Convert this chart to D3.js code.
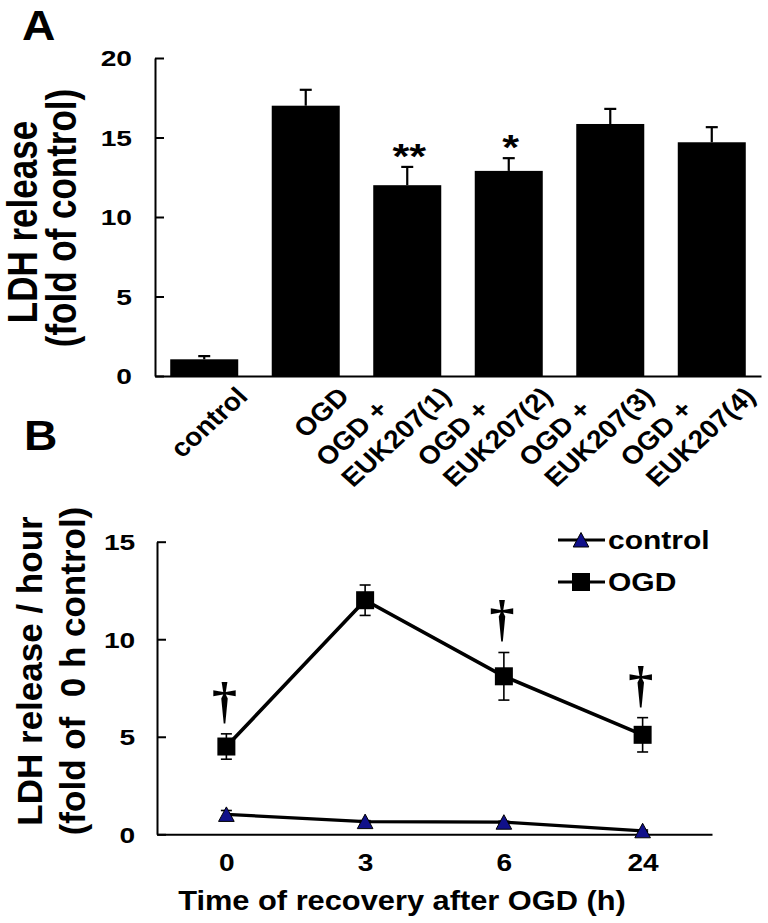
<!DOCTYPE html>
<html>
<head>
<meta charset="utf-8">
<script src="https://cdn.jsdelivr.net/npm/d3@7"></script>
<style>
  html, body { margin: 0; padding: 0; background: #fff; }
  svg { display: block; }
  text { font-family: "Liberation Sans", Arial, Helvetica, sans-serif; font-weight: bold; fill: #000; }
</style>
</head>
<body>
<svg id="chart" width="768" height="923"></svg>
<script>
// ---------- Panel A data ----------
const categoriesA = ["control", "OGD", "OGD + EUK207(1)", "OGD + EUK207(2)", "OGD + EUK207(3)", "OGD + EUK207(4)"];
const ldhRelease = [1.05, 17.0, 12.0, 12.9, 15.85, 14.7];
const ldhReleaseErr = [0.2, 1.0, 1.15, 0.8, 0.95, 0.95];
const significance = ["", "", "**", "*", "", ""];
const yTicksA = [0, 5, 10, 15, 20];

// ---------- Panel B data ----------
const timePoints = ["0", "3", "6", "24"];
const controlRate = [1.02, 0.65, 0.62, 0.18];
const controlErr = [0.2, 0.05, 0.05, 0.04];
const ogdRate = [4.5, 12.0, 8.1, 5.1];
const ogdErr = [0.65, 0.78, 1.22, 0.88];
const daggerMarks = ["\u2020", "", "\u2020", "\u2020"];
const yTicksB = [0, 5, 10, 15];
const seriesNames = ["control", "OGD"];

const svg = d3.select("#chart");

function txt(g, x, y, s, o) {
  let tr = `translate(${x},${y}) scale(${o.sx || 1},1)` + (o.rot ? ` rotate(${o.rot})` : "");
  const t = g.append("text")
    .attr("transform", tr)
    .attr("text-anchor", o.anchor || "start")
    .attr("font-size", o.size)
    .text(s);
  if (o.dy) t.attr("dy", o.dy);
  if (o.family) t.style("font-family", o.family);
  if (o.pre) t.attr("xml:space", "preserve").style("white-space", "pre");
  return t;
}

// =============== PANEL A ===============
const gA = svg.append("g");
const yA = d3.scaleLinear().domain([0, 20]).range([376, 58]);
const xA = d3.scaleBand().domain(categoriesA).range([155, 761]).paddingInner(0.33).paddingOuter(0.15);

txt(gA, 22, 40, "A", { size: 42, sx: 1.1 });

// y axis
const yAxisA = d3.axisLeft(yA).tickValues(yTicksA).tickSize(-9).tickSizeOuter(0).tickPadding(18);
const gyA = gA.append("g").attr("transform", "translate(155,0)").call(yAxisA);
gyA.select(".domain").attr("stroke", "#000").attr("stroke-width", 2);
gyA.selectAll(".tick line").attr("stroke", "#000").attr("stroke-width", 2);
gyA.selectAll(".tick text").attr("font-size", 22).attr("font-family", null).attr("transform", "scale(1.28,1)").attr("dy", "0.36em");

// bars
gA.selectAll("rect.bar").data(categoriesA).join("rect")
  .attr("class", "bar")
  .attr("x", d => xA(d))
  .attr("width", xA.bandwidth())
  .attr("y", (d, i) => yA(ldhRelease[i]))
  .attr("height", (d, i) => yA(0) - yA(ldhRelease[i]))
  .attr("fill", "#000");

// error bars (upper only)
const capA = 12;
categoriesA.forEach((c, i) => {
  const cx = xA(c) + xA.bandwidth() / 2;
  const top = yA(ldhRelease[i] + ldhReleaseErr[i]);
  gA.append("line").attr("x1", cx).attr("x2", cx).attr("y1", yA(ldhRelease[i])).attr("y2", top)
    .attr("stroke", "#000").attr("stroke-width", 2.2);
  gA.append("line").attr("x1", cx - capA / 2).attr("x2", cx + capA / 2).attr("y1", top).attr("y2", top)
    .attr("stroke", "#000").attr("stroke-width", 2.2);
  if (significance[i]) {
    txt(gA, cx + 2, top + 1, significance[i], { size: 36, sx: 1.2, anchor: "middle" });
  }
});

// x axis line
const xAxisA = d3.axisBottom(xA).tickSize(0).tickSizeOuter(0).tickFormat("");
const gxA = gA.append("g").attr("transform", `translate(0,${yA(0)})`).call(xAxisA);
gxA.select(".domain").attr("stroke", "#000").attr("stroke-width", 2);

// rotated category labels
const lab = 25.5, lh = 31;
categoriesA.forEach((c, i) => {
  const lines = c.split(/(?<=\+) /);
  const cx = xA(c) + xA.bandwidth() / 2;
  const g = gA.append("g").attr("transform", `translate(${cx + 45},${398}) scale(1.1,1) rotate(-45)`);
  const n = lines.length;
  const last = g.append("text").attr("font-size", lab).attr("text-anchor", "end").attr("x", 0).attr("y", 0).text(lines[n - 1]);
  const W = last.node().getComputedTextLength();
  for (let k = 0; k < n - 1; k++) {
    g.append("text").attr("font-size", lab).attr("text-anchor", "start")
      .attr("x", -W - 2).attr("y", -(n - 1 - k) * lh).text(lines[k]);
  }
});

// y title A
txt(gA, 37, 222, "LDH release", { size: 35, sx: 1.22, rot: -90, anchor: "middle" });
txt(gA, 76, 218, "(fold of control)", { size: 35, sx: 1.22, rot: -90, anchor: "middle" });

// =============== PANEL B ===============
const gB = svg.append("g");
const yB = d3.scaleLinear().domain([0, 15]).range([834.3, 541.7]);
const xB = d3.scalePoint().domain(timePoints).range([157, 712]).padding(0.5);

txt(gB, 24, 450, "B", { size: 42, sx: 1.1 });

const yAxisB = d3.axisLeft(yB).tickValues(yTicksB).tickSize(-9).tickSizeOuter(0).tickPadding(17);
const gyB = gB.append("g").attr("transform", "translate(157,0)").call(yAxisB);
gyB.select(".domain").attr("stroke", "#000").attr("stroke-width", 2);
gyB.selectAll(".tick line").attr("stroke", "#000").attr("stroke-width", 2);
gyB.selectAll(".tick text").attr("font-size", 22).attr("font-family", null).attr("transform", "scale(1.28,1)").attr("dy", "0.36em");

const xAxisB = d3.axisBottom(xB).tickSize(0).tickSizeOuter(0).tickPadding(20);
const gxB = gB.append("g").attr("transform", `translate(0,${yB(0)})`).call(xAxisB);
gxB.select(".domain").attr("stroke", "#000").attr("stroke-width", 2);
gxB.selectAll(".tick text").attr("font-size", 23).attr("font-family", null).attr("transform", "scale(1.22,1)");

// lines
const line = d3.line().x((d, i) => xB(timePoints[i])).y(d => yB(d));
gB.append("path").datum(controlRate).attr("d", line).attr("fill", "none").attr("stroke", "#000").attr("stroke-width", 3.2);
gB.append("path").datum(ogdRate).attr("d", line).attr("fill", "none").attr("stroke", "#000").attr("stroke-width", 3.6);

// error bars
function errBars(vals, errs) {
  vals.forEach((v, i) => {
    const cx = xB(timePoints[i]);
    const t = yB(v + errs[i]), b = yB(v - errs[i]);
    gB.append("line").attr("x1", cx).attr("x2", cx).attr("y1", t).attr("y2", b).attr("stroke", "#000").attr("stroke-width", 1.6);
    [t, b].forEach(yy => gB.append("line").attr("x1", cx - 5.5).attr("x2", cx + 5.5).attr("y1", yy).attr("y2", yy).attr("stroke", "#000").attr("stroke-width", 1.6));
  });
}
errBars(controlRate, controlErr);
errBars(ogdRate, ogdErr);

// markers
const triPath = "M0,-7.5 L7.8,7 L-7.8,7 Z";
gB.selectAll("path.tri").data(controlRate).join("path").attr("class", "tri")
  .attr("d", triPath)
  .attr("transform", (d, i) => `translate(${xB(timePoints[i])},${yB(d)})`)
  .attr("fill", "#10108a").attr("stroke", "#000").attr("stroke-width", 1);
gB.selectAll("rect.sq").data(ogdRate).join("rect").attr("class", "sq")
  .attr("x", (d, i) => xB(timePoints[i]) - 9).attr("y", d => yB(d) - 9)
  .attr("width", 18).attr("height", 18).attr("fill", "#000");

// daggers
daggerMarks.forEach((m, i) => {
  if (!m) return;
  const top = yB(ogdRate[i] + ogdErr[i]);
  txt(gB, xB(timePoints[i]) - 2, top - 17, m, { size: 50, anchor: "middle", family: "'Liberation Serif', 'Times New Roman', serif" });
});

// legend
const legY = [540, 582];
seriesNames.forEach((s, k) => {
  gB.append("line").attr("x1", 558).attr("x2", 605).attr("y1", legY[k]).attr("y2", legY[k]).attr("stroke", "#000").attr("stroke-width", 3.2);
  if (k === 0) {
    gB.append("path").attr("d", triPath).attr("transform", `translate(581,${legY[k]})`).attr("fill", "#10108a").attr("stroke", "#000").attr("stroke-width", 1);
  } else {
    gB.append("rect").attr("x", 581 - 9).attr("y", legY[k] - 9).attr("width", 18).attr("height", 18).attr("fill", "#000");
  }
  txt(gB, 608, legY[k], s, { size: 25, sx: 1.2, dy: "0.36em" });
});

// axis titles B
txt(gB, 402, 910, "Time of recovery after OGD (h)", { size: 28, sx: 1.1, anchor: "middle" });
txt(gB, 42, 671, "LDH release / hour", { size: 35, rot: -90, anchor: "middle" });
txt(gB, 85, 671, "(fold of  0 h control)", { size: 35, rot: -90, anchor: "middle", pre: true });
</script>
</body>
</html>
